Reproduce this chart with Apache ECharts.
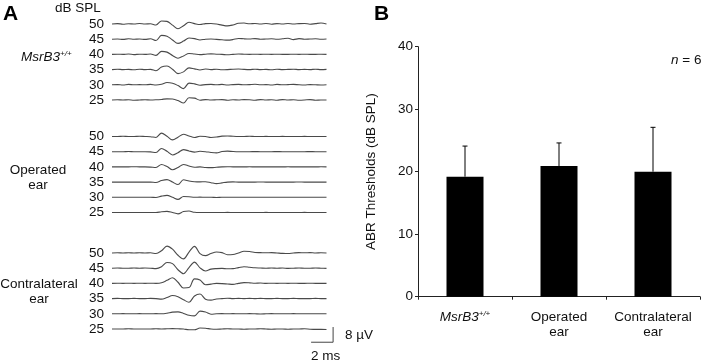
<!DOCTYPE html>
<html><head><meta charset="utf-8">
<script src="https://cdn.jsdelivr.net/npm/echarts@6/dist/echarts.min.js"></script>
<style>html,body{margin:0;padding:0;background:#fff}#c{width:702px;height:363px}</style>
</head><body><div id="c"></div>
<script>
// ---------- Panel A data: ABR waveforms (µV), sampled every 0.5 ms ----------
const levels = [25, 30, 35, 40, 45, 50];          // dB SPL, bottom to top
const sampleStepMs = 0.5;
const groupLabels = ['MsrB3+/+', 'Operated ear', 'Contralateral ear'];

const msr_50 = [0.0,0.2,-0.1,0.1,0.0,0.3,0.0,0.1,-0.5,1.6, 1.4,-0.6,-2.5,-0.9,0.9,0.2,-0.3,0.2,0.3,0.0, -0.6,-1.0,-0.5,0.4,0.5,0.1,0.3,0.0,0.3,-0.1, 0.2,0.0,0.3,0.0,0.2,0.3,-0.1,0.2,0.5,0.0];
const msr_45 = [0.0,0.1,-0.1,0.2,0.0,0.1,-0.1,0.2,-0.7,2.0, 1.6,-0.4,-2.2,-1.0,0.6,0.3,-0.4,0.0,0.1,-0.1, -0.3,-0.5,-0.2,0.4,0.2,0.1,0.3,0.0,0.1,0.2, 0.0,0.2,0.5,-0.2,0.3,0.0,0.1,0.2,0.0,0.1];
const msr_40 = [0.0,0.1,0.0,0.2,-0.1,0.1,0.0,0.2,-0.5,1.6, 1.2,-0.6,-2.0,-0.8,0.5,0.2,-0.1,0.1,0.3,0.1, 0.0,-0.2,0.0,0.2,0.1,0.0,0.1,0.0,0.1,0.0, 0.1,0.0,0.0,0.1,0.0,0.1,0.0,0.0,0.1,0.0];
const msr_35 = [0.0,0.2,0.0,0.1,-0.1,0.2,0.0,0.1,-0.6,1.4, 1.9,0.2,-2.1,-1.2,0.9,0.4,-0.2,0.3,0.0,0.2, -0.1,0.0,0.2,0.3,0.1,0.0,0.2,0.0,0.1,-0.1, 0.2,0.0,0.1,0.2,0.0,0.1,0.0,0.2,0.0,0.1];
const msr_30 = [0.0,0.1,-0.1,0.2,0.0,0.1,0.0,0.2,-0.1,0.3, 1.2,0.8,-0.4,-2.0,0.9,0.5,-0.2,0.1,0.2,0.0, 0.2,-0.1,0.1,0.2,0.0,0.1,0.3,0.0,0.1,-0.1, 0.2,0.0,0.1,0.2,0.0,-0.1,0.1,0.0,-0.1,0.0];
const msr_25 = [0.0,0.1,0.0,0.1,-0.1,0.0,0.1,0.0,0.1,0.3, 0.6,0.5,-0.3,-1.6,1.2,1.0,-0.1,0.2,0.0,0.1, 0.2,-0.1,0.1,0.0,0.2,0.1,-0.1,0.2,0.0,0.1, -0.1,0.2,0.0,0.1,-0.1,0.0,0.2,-0.1,0.0,0.0];

const op_50 = [0.0,0.0,0.1,0.0,0.0,0.1,0.0,-0.1,-0.5,1.8, 0.1,-1.8,-0.4,1.2,0.3,-0.5,0.1,0.0,-0.5,-0.3, 0.2,0.3,0.1,0.0,0.0,0.1,0.0,0.0,0.05,0.0, 0.0,0.05,0.0,0.0,0.0,0.05,0.0,0.0,0.0,0.0];
const op_45 = [0.0,0.0,0.0,0.1,0.0,0.0,0.0,-0.1,-0.4,1.7, 0.2,-1.7,-0.5,1.1,0.4,-0.2,0.2,0.0,-0.4,-0.6, 0.1,0.3,0.1,0.0,0.0,0.0,0.05,0.0,0.0,0.0, 0.05,0.0,0.0,0.0,0.0,0.0,0.05,0.0,0.0,0.0];
const op_40 = [0.0,0.0,0.0,0.0,0.1,0.0,0.0,-0.1,-0.3,1.3, 0.2,-1.5,-0.3,1.3,0.5,-0.2,0.0,-0.3,-0.4,-0.2, 0.0,0.1,0.0,0.0,0.0,0.05,0.0,0.0,0.0,0.0, 0.0,0.0,0.05,0.0,0.0,0.0,0.0,0.0,0.05,0.0];
const op_35 = [0.0,0.0,0.0,0.0,0.0,0.0,0.0,0.0,-0.2,0.8, 1.3,0.0,-1.3,1.2,0.6,0.2,0.1,0.2,-0.3,-0.8, -0.4,0.0,0.1,0.0,0.0,0.0,0.0,0.05,0.0,0.0, 0.0,0.0,0.0,0.0,0.05,0.0,0.0,0.0,0.0,0.0];
const op_30 = [0.0,0.0,0.0,0.0,0.0,0.0,0.0,0.0,-0.1,0.6, 1.0,0.0,-1.1,0.4,0.3,0.0,0.1,0.0,0.0,-0.1, 0.0,0.0,0.0,0.05,0.0,0.0,0.0,0.0,0.0,0.0, 0.05,0.0,0.0,0.0,0.0,0.0,0.0,0.05,0.0,0.0];
const op_25 = [0.0,0.0,0.0,0.0,0.0,0.0,0.0,0.0,0.0,0.4, 0.6,0.0,-0.7,0.5,0.8,0.1,0.0,0.0,0.0,0.0, 0.0,0.05,0.0,0.0,0.0,0.0,0.0,0.0,0.05,0.0, 0.0,0.0,0.0,0.0,0.0,0.05,0.0,0.0,0.0,0.0];

const con_50 = [0.0,0.1,0.0,0.1,0.0,0.1,0.0,0.1,-0.3,1.2, 3.6,2.0,-1.2,-3.1,0.5,3.5,-0.3,-1.4,-0.3,0.5, 0.2,-0.9,-0.8,0.0,0.9,0.8,0.3,0.2,0.1,0.2, 0.0,-0.2,-0.3,0.0,0.2,0.1,0.2,0.0,0.1,0.0];
const con_45 = [0.0,0.1,0.0,0.0,0.1,0.0,0.1,0.0,-0.2,0.8, 3.0,2.4,-0.8,-2.9,0.3,3.2,0.2,-1.5,-0.5,-0.2, -0.1,-0.3,-0.2,0.3,0.8,0.5,0.2,0.1,0.0,0.1, 0.0,0.1,-0.1,0.0,0.1,0.0,0.0,0.1,0.0,-0.1];
const con_40 = [0.0,0.1,0.0,0.1,0.0,0.1,0.0,0.1,0.0,0.3, 1.6,3.0,0.6,-2.4,-2.2,2.4,1.8,-0.7,-0.4,0.0, -0.1,-0.3,-0.5,0.0,0.4,0.3,0.1,0.2,0.0,0.1, 0.0,0.1,0.0,0.1,0.0,0.0,0.1,0.0,0.0,0.0];
const con_35 = [0.0,0.1,0.0,0.0,0.1,0.0,0.0,0.1,0.0,-0.3, 0.6,1.6,1.0,-0.6,-1.9,1.4,2.4,-0.3,-0.8,-0.2, 0.0,0.2,0.0,0.1,0.0,0.1,0.0,0.1,0.0,0.0, 0.1,0.0,0.0,0.1,0.0,0.0,0.0,0.1,0.0,0.0];
const con_30 = [0.0,0.0,0.1,0.0,0.0,0.1,0.0,0.0,0.1,0.0, 0.3,0.9,1.0,0.2,-0.8,-1.1,1.4,0.9,-0.2,0.0, 0.1,0.0,0.1,0.0,0.0,0.1,0.0,-0.1,0.0,0.1, 0.0,0.0,0.0,0.1,0.0,0.0,0.0,0.0,0.0,0.0];
const con_25 = [0.0,0.0,0.0,0.1,0.0,0.0,0.0,0.0,0.1,0.0, 0.1,0.2,0.1,0.0,-0.4,-0.4,0.5,0.4,0.0,-0.1, 0.0,0.1,0.0,0.0,-0.1,0.0,0.0,0.1,0.0,-0.1, 0.0,0.0,-0.1,0.0,0.0,0.1,-0.1,-0.2,-0.2,-0.3];

// grouped bottom (25 dB) to top (50 dB)
const groupWaves = [
  [msr_25, msr_30, msr_35, msr_40, msr_45, msr_50],
  [op_25, op_30, op_35, op_40, op_45, op_50],
  [con_25, con_30, con_35, con_40, con_45, con_50]
];
const scaleBarMs = 2, scaleBarUV = 8;

// ---------- Panel B data ----------
const barCategories = ['MsrB3+/+', 'Operated ear', 'Contralateral ear'];
const barMeans = [19.2, 20.9, 20.0];
const barErrors = [4.9, 3.7, 7.1];
const nLabel = 6;

// ---------- layout ----------
const FONT = '"Liberation Sans", Arial, Helvetica, sans-serif';
const FS = 13.5;
const TXT = '#111';
const rowPx = 15.2, pxPerUV = 1.9, rowPerUV = pxPerUV / rowPx;
const row50Y = [24, 136.5, 253];
const traceLeft = 112, pxPerMs = 11, xMax = 20.2;
const traceColor = '#4a4a4a';

const grid = [], xAxis = [], yAxis = [], series = [];
for (let g = 0; g < 3; g++) {
  grid.push({ left: traceLeft, top: row50Y[g] - rowPx, width: pxPerMs * xMax, height: rowPx * 7 });
  xAxis.push({ type: 'value', gridIndex: g, min: 0, max: xMax, show: false });
  yAxis.push({
    type: 'value', gridIndex: g, min: -1, max: 6, interval: 1,
    axisLine: { show: false }, axisTick: { show: false }, splitLine: { show: false },
    axisLabel: {
      margin: 8, fontSize: FS, color: TXT, fontFamily: FONT,
      formatter: v => { const k = Math.round(v); return (k >= 0 && k <= 5) ? String(levels[k]) : ''; }
    }
  });
  groupWaves[g].forEach((w, k) => {
    series.push({
      type: 'line', xAxisIndex: g, yAxisIndex: g, silent: true, animation: false,
      showSymbol: false, symbol: 'none', smooth: 0.35,
      lineStyle: { color: traceColor, width: 1.1 },
      data: w.map((v, i) => [i * sampleStepMs, k + v * rowPerUV])
    });
  });
}
// scale bar (2 ms, 8 µV) in last grid
const sbX = 18.1, sbY = -0.87;
series.push({
  type: 'line', xAxisIndex: 2, yAxisIndex: 2, silent: true, animation: false,
  showSymbol: false, symbol: 'none', lineStyle: { color: '#444', width: 1 },
  data: [[sbX, sbY], [sbX + scaleBarMs, sbY], [sbX + scaleBarMs, sbY + scaleBarUV * rowPerUV]]
});

// Panel B
grid.push({ left: 418, right: 2, top: 46.7, bottom: 66.3 });
xAxis.push({
  type: 'category', gridIndex: 3, data: barCategories,
  axisLine: { lineStyle: { color: '#222', width: 1 } },
  axisTick: { show: true, length: 3, lineStyle: { color: '#222' } },
  axisLabel: {
    interval: 0, margin: 13, fontSize: FS, color: TXT, fontFamily: FONT, lineHeight: 15,
    formatter: v => v === 'MsrB3+/+' ? '{i|MsrB3}{s|+/+}' : v.replace(' ear', '\near'),
    rich: {
      i: { fontStyle: 'italic', fontSize: FS, fontFamily: FONT, color: TXT },
      s: { fontStyle: 'italic', fontSize: 8, fontFamily: FONT, color: TXT, padding: [0, 0, 7, 0] }
    }
  }
});
yAxis.push({
  type: 'value', gridIndex: 3, min: 0, max: 40, interval: 10,
  name: 'ABR Thresholds (dB SPL)', nameLocation: 'middle', nameGap: 40,
  nameTextStyle: { fontSize: FS, color: TXT, fontFamily: FONT },
  axisLine: { show: true, lineStyle: { color: '#222', width: 1 } },
  axisTick: { show: true, length: 3, lineStyle: { color: '#222' } },
  splitLine: { show: false },
  axisLabel: { margin: 5, fontSize: FS, color: TXT, fontFamily: FONT }
});
series.push({
  type: 'bar', xAxisIndex: 3, yAxisIndex: 3, data: barMeans, barWidth: 37,
  itemStyle: { color: '#000' }, silent: true, animation: false
});
series.push({
  type: 'custom', xAxisIndex: 3, yAxisIndex: 3, silent: true, animation: false, z: 5,
  data: barMeans.map((m, i) => [i, m, m + barErrors[i]]),
  renderItem: (params, api) => {
    const p0 = api.coord([api.value(0), api.value(1)]);
    const p1 = api.coord([api.value(0), api.value(2)]);
    const st = { stroke: '#000', lineWidth: 1 };
    return { type: 'group', children: [
      { type: 'line', shape: { x1: p0[0], y1: p0[1], x2: p1[0], y2: p1[1] }, style: st },
      { type: 'line', shape: { x1: p1[0] - 2.5, y1: p1[1], x2: p1[0] + 2.5, y2: p1[1] }, style: st }
    ]};
  }
});

const txt = (x, y, text, extra) => ({
  type: 'text', x, y, silent: true,
  style: Object.assign({ text, fill: TXT, font: `${FS}px ${FONT}`, align: 'left', verticalAlign: 'middle' }, extra || {})
});
const supRich = {
  i: { fontStyle: 'italic', fontSize: FS, fontFamily: FONT, fill: TXT },
  s: { fontStyle: 'italic', fontSize: 8, fontFamily: FONT, fill: TXT, padding: [0, 0, 7, 0] }
};

const graphic = [
  txt(3, 14, 'A', { font: `bold 21px ${FONT}`, fill: '#000' }),
  txt(374, 14, 'B', { font: `bold 21px ${FONT}`, fill: '#000' }),
  txt(55, 8.5, 'dB SPL'),
  txt(21, 57.5, '{i|MsrB3}{s|+/+}', { rich: supRich }),
  txt(38, 170, 'Operated', { align: 'center' }),
  txt(38, 185, 'ear', { align: 'center' }),
  txt(39, 284, 'Contralateral', { align: 'center' }),
  txt(39, 299, 'ear', { align: 'center' }),
  txt(345, 335, '8 µV'),
  txt(311, 356, '2 ms'),
  txt(671, 60, '{i|n} = ' + nLabel, { rich: { i: { fontStyle: 'italic', fontSize: FS, fontFamily: FONT, fill: TXT } } })
];

const chart = echarts.init(document.getElementById('c'), null, { renderer: 'canvas' });
chart.setOption({ animation: false, backgroundColor: '#fff', grid, xAxis, yAxis, series, graphic });
</script>
</body></html>
